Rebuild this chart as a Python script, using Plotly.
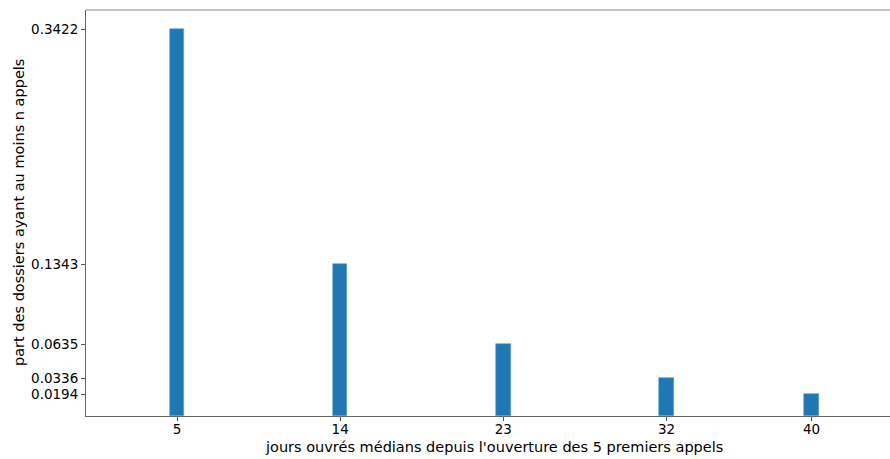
import plotly.graph_objects as go

# median working days since opening, for the first n calls
jours = [5, 14, 23, 32, 40]
# share of files with at least n calls
parts = [0.3422, 0.1343, 0.0635, 0.0336, 0.0194]
x_ticks = ["5", "14", "23", "32", "40"]
y_ticks = ["0.3422", "0.1343", "0.0635", "0.0336", "0.0194"]

title_font = dict(family="DejaVu Sans", size=14.5, color="#000000")
tick_font = dict(family="DejaVu Sans", size=13.5, color="#000000")

fig = go.Figure(
    go.Bar(
        x=jours,
        y=parts,
        width=0.8,
        marker=dict(color="#1f77b4", line=dict(color="#5f9fd0", width=0.6)),
    )
)

fig.update_layout(
    width=890,
    height=459,
    margin=dict(l=86, r=0, t=10, b=43),
    paper_bgcolor="white",
    plot_bgcolor="white",
    font=title_font,
    showlegend=False,
    bargap=0,
)

fig.update_xaxes(
    range=[-0.02, 44.33],
    tickmode="array",
    tickvals=jours,
    ticktext=x_ticks,
    ticks="outside",
    ticklen=4,
    tickcolor="#555555",
    ticklabelstandoff=-3,
    showline=True,
    linecolor="#666666",
    linewidth=1,
    showgrid=False,
    zeroline=False,
    tickfont=tick_font,
)

fig.update_yaxes(
    range=[0, 0.3593],
    tickmode="array",
    tickvals=parts,
    ticktext=y_ticks,
    ticks="outside",
    ticklen=4,
    tickcolor="#555555",
    showline=True,
    linecolor="#666666",
    linewidth=1,
    showgrid=False,
    zeroline=False,
    tickfont=tick_font,
)

# axis titles
fig.add_annotation(
    text="jours ouvrés médians depuis l'ouverture des 5 premiers appels",
    xref="paper", yref="paper", x=(494 - 86) / 804, y=-(447 - 416) / 406,
    xanchor="center", yanchor="middle", showarrow=False, font=title_font,
)
fig.add_annotation(
    text="part des dossiers ayant au moins n appels",
    xref="paper", yref="paper", x=-(86 - 19) / 804, y=0.5, textangle=-90,
    xanchor="center", yanchor="middle", showarrow=False, font=title_font,
)

# light top border of the axes box
fig.add_shape(type="line", xref="paper", yref="paper", x0=0, x1=1, y0=1, y1=1,
              line=dict(color="#b0b0b0", width=1.5))

fig.write_html("out.html")
